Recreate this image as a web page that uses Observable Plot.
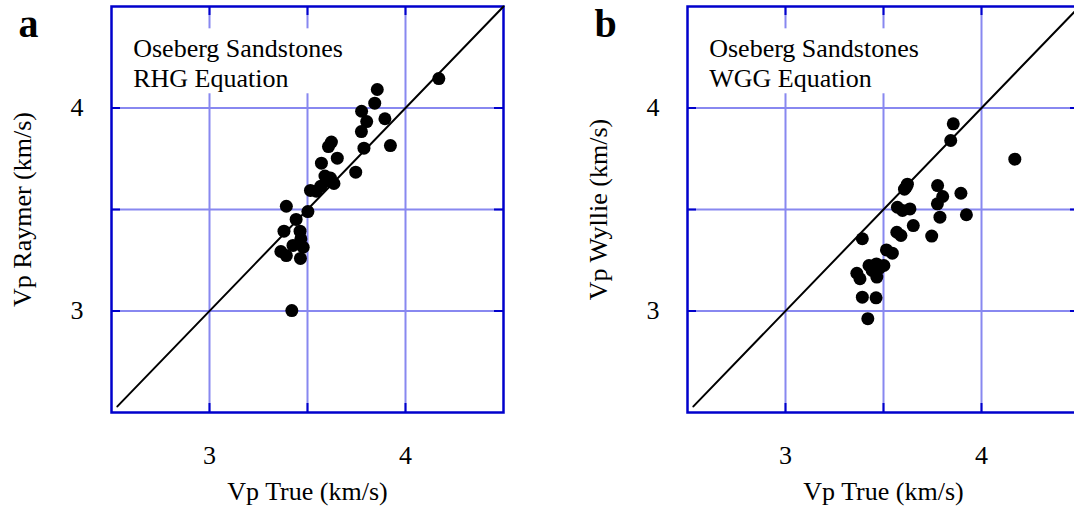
<!DOCTYPE html>
<html>
<head>
<meta charset="utf-8">
<script src="https://cdn.jsdelivr.net/npm/d3@7"></script>
<script src="https://cdn.jsdelivr.net/npm/@observablehq/plot@0.6"></script>
<style>
  html, body { margin: 0; padding: 0; background: #fff; overflow: hidden; width: 1074px; height: 512px; }
  #wrap { position: relative; width: 1074px; height: 512px; overflow: hidden; }
  .panel { position: absolute; top: 0; width: 540px; height: 512px; }
  .panel svg { max-width: none !important; display: block; }
  .panel svg, .panel svg text { font-family: "Liberation Serif", "Times New Roman", Times, serif !important; }
</style>
</head>
<body>
<div id="wrap">
  <div class="panel" id="panel-a" style="left:0"></div>
  <div class="panel" id="panel-b" style="left:576px"></div>
</div>
<script>
// Measured P-wave velocity of Oseberg sandstones (km/s)
const vpTrue   = [3.364, 3.380, 3.392, 3.392, 3.420, 3.426, 3.442, 3.462, 3.464, 3.466, 3.478,
                  3.502, 3.515, 3.545, 3.568, 3.571, 3.589, 3.597, 3.607, 3.617, 3.622, 3.635,
                  3.652, 3.746, 3.775, 3.776, 3.788, 3.802, 3.843, 3.856, 3.895, 3.923, 4.170];
// Predicted by the Raymer-Hunt-Gardner equation
const vpRaymer = [3.293, 3.393, 3.516, 3.273, 3.002, 3.323, 3.451, 3.393, 3.259, 3.355, 3.314,
                  3.490, 3.594, 3.590, 3.615, 3.728, 3.665, 3.640, 3.810, 3.655, 3.832, 3.628,
                  3.753, 3.684, 3.884, 3.984, 3.802, 3.933, 4.024, 4.091, 3.947, 3.815, 4.145];
// Predicted by the Wyllie time-average equation
const vpWyllie = [3.186, 3.159, 3.356, 3.068, 2.962, 3.224, 3.200, 3.065, 3.232, 3.167, 3.210,
                  3.224, 3.301, 3.285, 3.388, 3.511, 3.372, 3.495, 3.600, 3.613, 3.625, 3.503,
                  3.421, 3.369, 3.528, 3.618, 3.462, 3.564, 3.840, 3.922, 3.580, 3.474, 3.748];

const gridValues = [3, 3.5, 4];
const tickLabels = [3, 4];
const oneToOne = [2.53, 4.5];
// white box behind the caption, in km/s units
const captionBox = [{x1: 2.55, x2: 3.73, y1: 4.07, y2: 4.39}];

const GRID = "#8888f0";
const FRAME = "#0000cc";
const FONT = "Liberation Serif";

function panel({letter, predicted, yLabel, equation}) {
  const points = vpTrue.map((x, i) => ({x, y: predicted[i]}));
  const W = 540, H = 512, mL = 111, mR = 37, mT = 6, mB = 100;
  const pw = W - mL - mR, ph = H - mT - mB;
  return Plot.plot({
    width: W, height: H,
    marginLeft: mL, marginRight: mR, marginTop: mT, marginBottom: mB,
    style: {fontSize: "26px", color: "#000", background: "#fff", overflow: "visible", maxWidth: "none"},
    x: {domain: [2.5, 4.5], axis: null},
    y: {domain: [2.5, 4.5], axis: null},
    marks: [
      Plot.ruleX(gridValues, {stroke: GRID, strokeWidth: 2}),
      Plot.ruleY(gridValues, {stroke: GRID, strokeWidth: 2}),
      Plot.rect(captionBox, {x1: "x1", x2: "x2", y1: "y1", y2: "y2", fill: "white"}),
      Plot.ruleX(gridValues, {stroke: FRAME, strokeWidth: 2, insetBottom: ph - 9}),
      Plot.ruleX(gridValues, {stroke: FRAME, strokeWidth: 2, insetTop: ph - 9}),
      Plot.ruleY(gridValues, {stroke: FRAME, strokeWidth: 2, insetRight: pw - 9}),
      Plot.ruleY(gridValues, {stroke: FRAME, strokeWidth: 2, insetLeft: pw - 9}),
      Plot.frame({stroke: FRAME, strokeWidth: 2.5}),
      Plot.line(oneToOne, {x: d => d, y: d => d, stroke: "#000", strokeWidth: 2}),
      Plot.dot(points, {x: "x", y: "y", r: 6.5, fill: "#000", stroke: "none"}),
      Plot.axisX(tickLabels, {tickSize: 0, tickPadding: 33, fontSize: 26, fontFamily: FONT, label: null, tickFormat: d3.format("d")}),
      Plot.axisY(tickLabels, {tickSize: 0, tickPadding: 28, fontSize: 26, fontFamily: FONT, label: null, tickFormat: d3.format("d")}),
      Plot.text(["Vp True (km/s)"], {frameAnchor: "bottom", textAnchor: "middle", lineAnchor: "top", dy: 69.5, fontSize: 26, fontFamily: FONT}),
      Plot.text([yLabel], {frameAnchor: "left", textAnchor: "middle", rotate: -90, lineAnchor: "top", dx: -98.5, fontSize: 26, fontFamily: FONT}),
      Plot.text([`Oseberg Sandstones\n${equation}`], {
        frameAnchor: "top-left", textAnchor: "start", lineAnchor: "top",
        dx: 21.7, dy: 28.5, lineHeight: 1.18, fontSize: 26, fontFamily: FONT
      }),
      Plot.text([letter], {
        frameAnchor: "top-left", textAnchor: "start", lineAnchor: "top",
        dx: -93, dy: 1.6, fontSize: 40, fontWeight: "bold", fontFamily: FONT
      })
    ]
  });
}

document.getElementById("panel-a").append(
  panel({letter: "a", predicted: vpRaymer, yLabel: "Vp Raymer (km/s)", equation: "RHG Equation"})
);
document.getElementById("panel-b").append(
  panel({letter: "b", predicted: vpWyllie, yLabel: "Vp Wyllie (km/s)", equation: "WGG Equation"})
);
</script>
</body>
</html>
